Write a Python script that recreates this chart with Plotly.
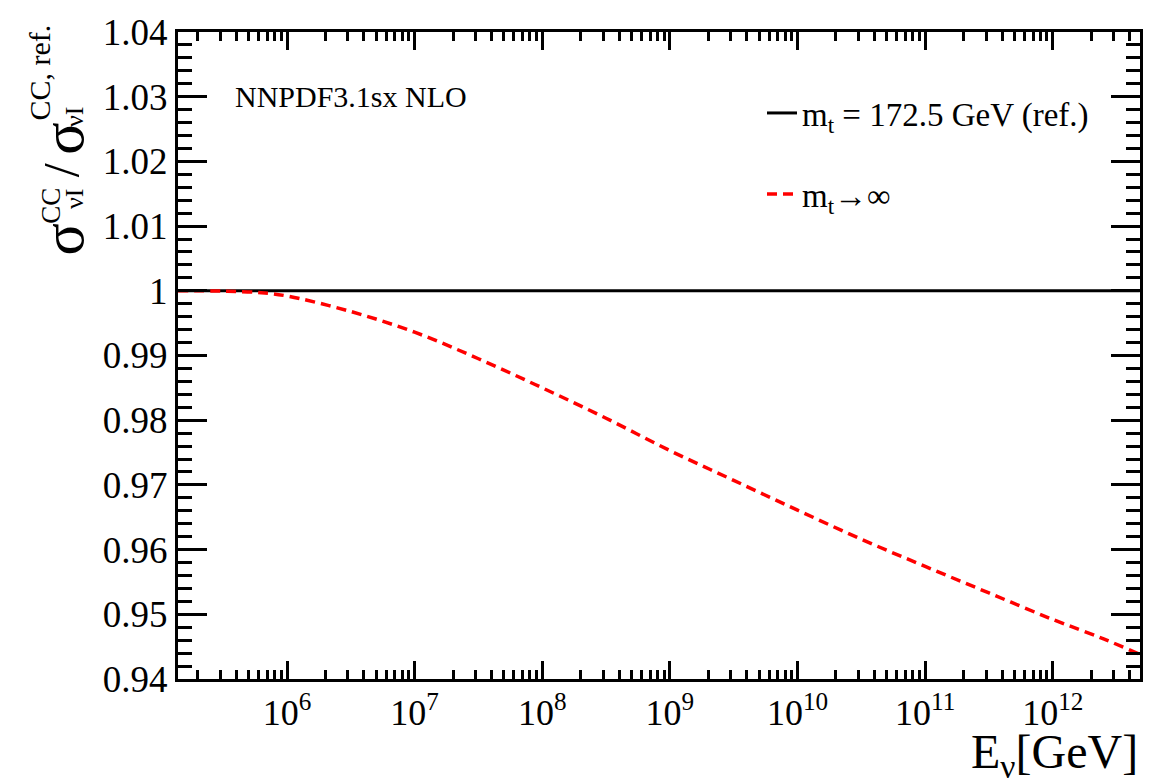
import plotly.graph_objects as go

# Data
energy_gev = [1.4e5, 3.16e5, 6.3e5, 1e6, 3.16e6, 1e7, 3.16e7, 1e8, 3.16e8, 1e9, 3.16e9,
              1e10, 3.16e10, 1e11, 3.16e11, 1e12, 2.5e12, 4.8e12]
ratio_ref = [1.0] * len(energy_gev)
ratio_inf = [1.0000, 0.99995, 0.9997, 0.9992, 0.9968, 0.9936, 0.9895, 0.9850, 0.9803,
             0.9753, 0.9707, 0.9661, 0.9616, 0.9574, 0.9533, 0.9492, 0.9462, 0.9438]

x_tick_vals = [1e6, 1e7, 1e8, 1e9, 1e10, 1e11, 1e12]
x_tick_text = ["10<sup>6</sup>", "10<sup>7</sup>", "10<sup>8</sup>", "10<sup>9</sup>",
               "10<sup>10</sup>", "10<sup>11</sup>", "10<sup>12</sup>"]
y_tick_vals = [0.94, 0.95, 0.96, 0.97, 0.98, 0.99, 1.0, 1.01, 1.02, 1.03, 1.04]
y_tick_text = ["0.94", "0.95", "0.96", "0.97", "0.98", "0.99", "1", "1.01", "1.02", "1.03", "1.04"]

FONT = "Liberation Serif"

minor_x = [m * 10 ** e for e in range(5, 13) for m in range(2, 10)]

# plot area in pixels (for placing free text)
L, R, T, B = 178, 1140, 24, 679


def px(xp):
    return (xp - L) / (R - L)


def py(yp):
    return (B - yp) / (B - T)


fig = go.Figure()
fig.add_trace(go.Scatter(x=energy_gev, y=ratio_ref, mode="lines",
                         line=dict(color="black", width=3),
                         name="m<sub>t</sub> = 172.5 GeV (ref.)", legend="legend"))
fig.add_trace(go.Scatter(x=energy_gev, y=ratio_inf, mode="lines", line_shape="spline",
                         line=dict(color="#ff0000", width=3.5, dash="10px,6px"),
                         name="m<sub>t</sub>→∞", legend="legend2"))


def rot(text, xc, yc, size):
    return dict(text=text, xref="paper", yref="paper", x=px(xc), y=py(yc),
                textangle=-90, xanchor="center", yanchor="middle", showarrow=False,
                font=dict(size=size, family=FONT))


annotations = [
    dict(text="NNPDF3.1sx NLO", xref="paper", yref="paper", x=px(233), y=py(89),
         xanchor="left", yanchor="middle", showarrow=False,
         font=dict(size=30, family=FONT)),
    dict(text="E<sub>ν</sub>[GeV]", xref="paper", yref="paper", x=1.0, y=py(756),
         xanchor="right", yanchor="middle", showarrow=False,
         font=dict(size=48, family=FONT)),
    # y-axis title: σ^{CC}_{νI} / σ^{CC, ref.}_{νI}
    rot("σ", 63, 234, 60),
    rot("CC", 51, 200, 27),
    rot("νI", 75, 193, 26),
    rot("/", 61, 164, 50),
    rot("σ", 63, 132, 60),
    rot("CC, ref.", 39, 65, 30),
    rot("νI", 75, 110, 26),
]

fig.update_layout(
    width=1168, height=784,
    margin=dict(l=L, r=1168 - R, t=T, b=784 - B),
    paper_bgcolor="white", plot_bgcolor="white",
    font=dict(family=FONT, color="black"),
    showlegend=True,
    legend=dict(x=px(762), y=py(106), xanchor="left", yanchor="middle",
                bgcolor="rgba(0,0,0,0)", font=dict(size=33, family=FONT)),
    legend2=dict(x=px(762), y=py(188), xanchor="left", yanchor="middle",
                 bgcolor="rgba(0,0,0,0)", font=dict(size=33, family=FONT)),
    xaxis=dict(type="log", range=[5.146, 12.683],
               tickmode="array", tickvals=x_tick_vals, ticktext=x_tick_text,
               ticks="inside", ticklen=18, tickwidth=2.5, tickcolor="black",
               showline=True, linewidth=3, linecolor="black", mirror="allticks",
               showgrid=False, zeroline=False,
               tickfont=dict(size=36, family=FONT),
               minor=dict(tickmode="array", tickvals=minor_x, ticks="inside",
                          ticklen=9, tickwidth=2.5, tickcolor="black", showgrid=False)),
    yaxis=dict(range=[0.94, 1.04],
               tickmode="array", tickvals=y_tick_vals, ticktext=y_tick_text,
               ticks="inside", ticklen=29, tickwidth=2.5, tickcolor="black",
               showline=True, linewidth=3, linecolor="black", mirror="allticks",
               showgrid=False, zeroline=False,
               tickfont=dict(size=37, family=FONT),
               minor=dict(dtick=0.002, tick0=0.94, ticks="inside", ticklen=14,
                          tickwidth=2.5, tickcolor="black", showgrid=False)),
    annotations=annotations,
)

fig.write_html("out.html")
